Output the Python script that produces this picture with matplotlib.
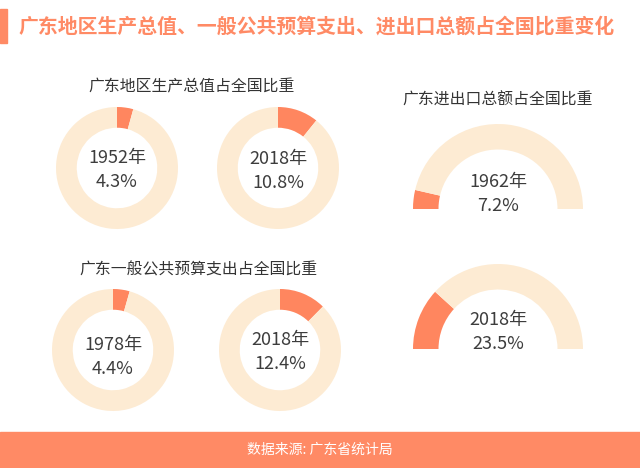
import matplotlib.pyplot as plt
from matplotlib.patches import Rectangle

plt.rcParams['font.family'] = ['Noto Sans CJK SC', 'DejaVu Sans']

title = '广东地区生产总值、一般公共预算支出、进出口总额占全国比重变化'
source = '数据来源: 广东省统计局'

gdp_title = '广东地区生产总值占全国比重'
gdp_years = ['1952年', '2018年']
gdp_share = [4.3, 10.8]

budget_title = '广东一般公共预算支出占全国比重'
budget_years = ['1978年', '2018年']
budget_share = [4.4, 12.4]

trade_title = '广东进出口总额占全国比重'
trade_years = ['1962年', '2018年']
trade_share = [7.2, 23.5]

hi = '#FF865F'
bg = '#FDEBD3'
orange = '#FF8A65'
dark = '#3d3d3d'

W, H = 640, 468
fig = plt.figure(figsize=(6.4, 4.68), dpi=100)


def donut_axes(cx, cy, r):
    # pixel centre/radius -> figure axes
    return fig.add_axes([(cx - r) / W, 1 - (cy + r) / H, 2 * r / W, 2 * r / H])


def full_donut(cx, cy, r, year, val, ty):
    ax = donut_axes(cx, cy, r)
    ax.pie([val, 100 - val], colors=[hi, bg], startangle=90, counterclock=False,
           radius=1, wedgeprops=dict(width=0.34, edgecolor='none'))
    ax.set_xlim(-1, 1)
    ax.set_ylim(-1, 1)
    ax.axis('off')
    fig.text(cx / W, 1 - ty / H, year, ha='center', va='center', fontsize=13, color=dark)
    fig.text(cx / W, 1 - (ty + 24) / H, f'{val}%', ha='center', va='center', fontsize=13, color=dark)


def half_donut(cx, cy, r, year, val, ty):
    ax = donut_axes(cx, cy, r)
    ax.pie([val, 100 - val, 100], colors=[hi, bg, 'none'], startangle=180, counterclock=False,
           radius=1, wedgeprops=dict(width=0.3, edgecolor='none'))
    ax.set_xlim(-1, 1)
    ax.set_ylim(-1, 1)
    ax.axis('off')
    fig.text(cx / W, 1 - ty / H, year, ha='center', va='center', fontsize=13, color=dark)
    fig.text(cx / W, 1 - (ty + 24) / H, f'{val}%', ha='center', va='center', fontsize=13, color=dark)


# header
fig.patches.append(Rectangle((0, 1 - 43 / H), 7 / W, 34 / H, transform=fig.transFigure,
                             color=orange, zorder=0))
fig.text(18 / W, 1 - 26 / H, title, ha='left', va='center', fontsize=14.3,
         fontweight='bold', color=orange)

# footer
fig.patches.append(Rectangle((0, 0), 1, (H - 432) / H, transform=fig.transFigure,
                             color=orange, zorder=0))
fig.text(0.5, 1 - 450 / H, source, ha='center', va='center', fontsize=10,
         color='white', fontweight='light')

# GDP
fig.text(192 / W, 1 - 87 / H, gdp_title, ha='center', va='center', fontsize=11.4, color='#333333')
full_donut(117, 168, 61, gdp_years[0], gdp_share[0], 158)
full_donut(278, 168, 61, gdp_years[1], gdp_share[1], 159)

# budget
fig.text(198 / W, 1 - 270 / H, budget_title, ha='center', va='center', fontsize=11.4, color='#333333')
full_donut(113, 350, 61, budget_years[0], budget_share[0], 345)
full_donut(280, 350, 61, budget_years[1], budget_share[1], 340)

# trade
fig.text(498 / W, 1 - 100 / H, trade_title, ha='center', va='center', fontsize=11.4, color='#333333')
half_donut(498, 209, 85, trade_years[0], trade_share[0], 182)
half_donut(498, 349, 85, trade_years[1], trade_share[1], 320)

plt.savefig('out.png', dpi=100)
